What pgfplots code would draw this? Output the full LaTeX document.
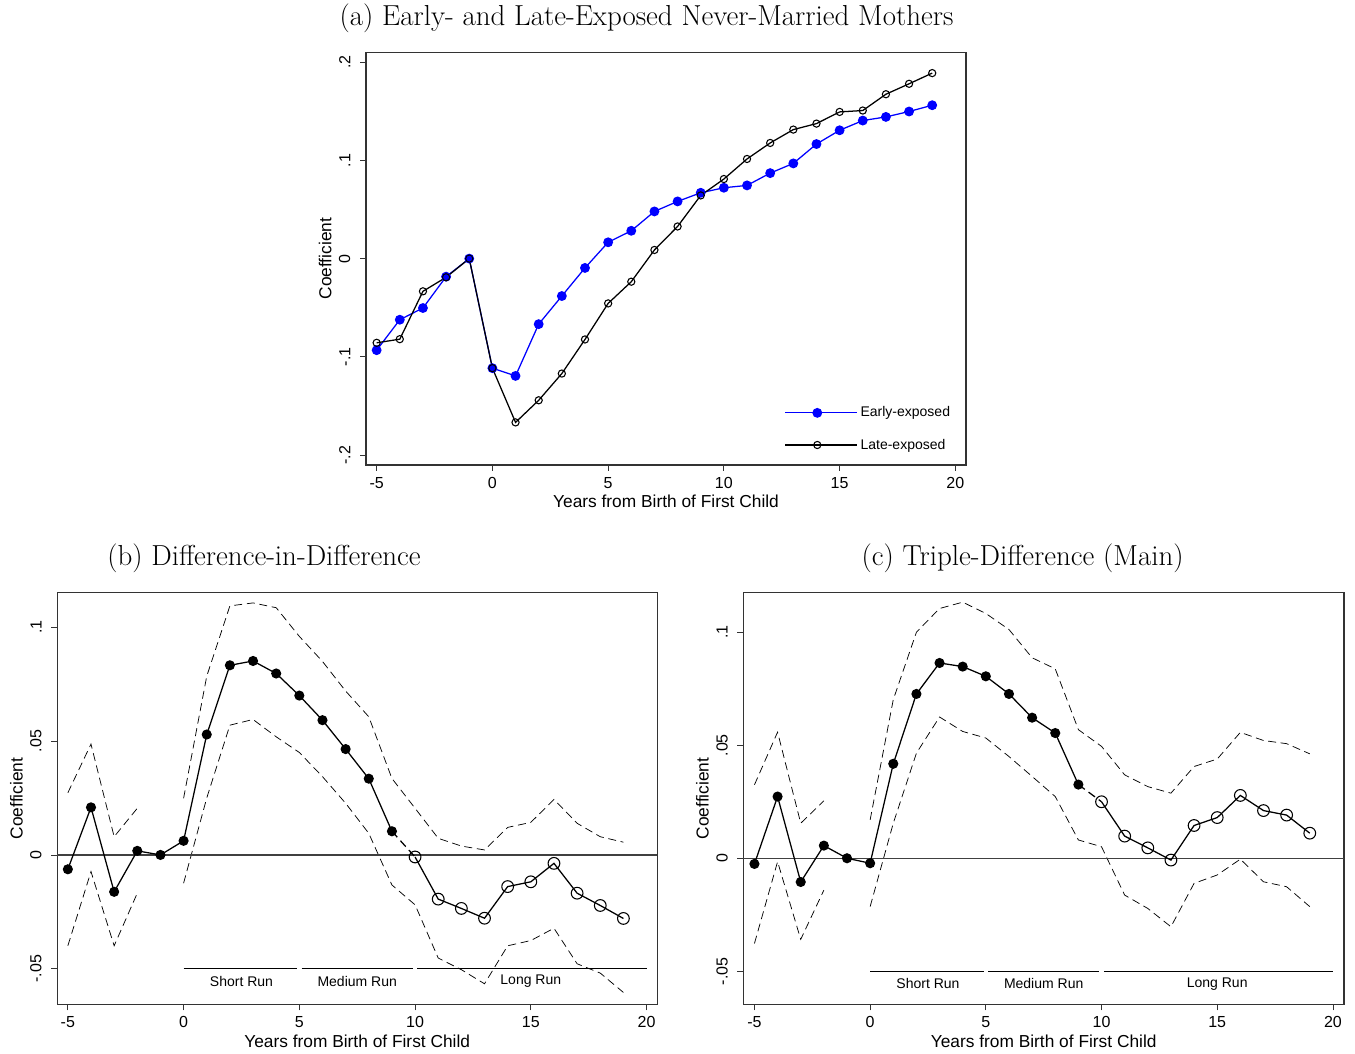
\documentclass[border=0pt]{standalone}
\usepackage{pgfplots}
\pgfplotsset{compat=1.18}
\usepackage{pgfplotstable}
\usepackage{fontspec}
\newfontfamily\arial{Liberation Sans}
\newcommand\tickfont{\arial\fontsize{12}{14}\selectfont}
\newcommand\labfont{\arial\fontsize{13}{15}\selectfont}
\newcommand\smfont{\arial\fontsize{10.5}{12}\selectfont}
\newcommand\titfont{\fontsize{21.7}{24}\selectfont}

\pgfplotstableread{
x early late
-5 -0.0932 -0.0857
-4 -0.0622 -0.0820
-3 -0.0503 -0.0333
-2 -0.0184 -0.0190
-1 0.0000 0.0000
0 -0.1115 -0.1115
1 -0.1194 -0.1667
2 -0.0667 -0.1442
3 -0.0381 -0.1170
4 -0.0095 -0.0823
5 0.0166 -0.0456
6 0.0283 -0.0235
7 0.0480 0.0088
8 0.0582 0.0327
9 0.0670 0.0643
10 0.0721 0.0810
11 0.0745 0.1014
12 0.0870 0.1177
13 0.0969 0.1313
14 0.1166 0.1374
15 0.1306 0.1493
16 0.1405 0.1507
17 0.1442 0.1673
18 0.1497 0.1779
19 0.1561 0.1888
}\tabA

\pgfplotstableread{
x b lo hi
-5 -0.0063 -0.0399 0.0273
-4 0.0209 -0.0073 0.0487
-3 -0.0162 -0.0399 0.0080
-2 0.0018 -0.0168 0.0205
-1 0.0000 nan nan
0 0.0062 -0.0124 0.0249
1 0.0529 0.0250 0.0785
2 0.0833 0.0570 0.1094
3 0.0852 0.0595 0.1107
4 0.0797 0.0519 0.1086
5 0.0700 0.0450 0.0960
6 0.0592 0.0344 0.0850
7 0.0465 0.0227 0.0720
8 0.0335 0.0095 0.0607
9 0.0104 -0.0132 0.0336
10 -0.0009 -0.0219 0.0205
11 -0.0194 -0.0453 0.0073
12 -0.0235 -0.0504 0.0039
13 -0.0278 -0.0566 0.0022
14 -0.0139 -0.0399 0.0121
15 -0.0118 -0.0376 0.0143
16 -0.0037 -0.0322 0.0244
17 -0.0168 -0.0478 0.0139
18 -0.0222 -0.0519 0.0080
19 -0.0279 -0.0604 0.0056
}\tabB

\pgfplotstableread{
x b lo hi
-5 -0.0025 -0.0377 0.0325
-4 0.0273 -0.0015 0.0558
-3 -0.0105 -0.0359 0.0155
-2 0.0056 -0.0141 0.0254
-1 0.0000 nan nan
0 -0.0022 -0.0214 0.0170
1 0.0418 0.0155 0.0702
2 0.0727 0.0465 0.1000
3 0.0864 0.0625 0.1105
4 0.0848 0.0561 0.1133
5 0.0805 0.0532 0.1083
6 0.0727 0.0450 0.1012
7 0.0622 0.0362 0.0887
8 0.0554 0.0273 0.0838
9 0.0326 0.0081 0.0569
10 0.0250 0.0051 0.0495
11 0.0098 -0.0163 0.0369
12 0.0046 -0.0222 0.0317
13 -0.0008 -0.0303 0.0288
14 0.0145 -0.0111 0.0406
15 0.0180 -0.0074 0.0439
16 0.0278 -0.0004 0.0557
17 0.0211 -0.0104 0.0521
18 0.0191 -0.0126 0.0507
19 0.0111 -0.0214 0.0462
}\tabC

\pgfplotsset{
  stata/.style={
    scale only axis,
    axis line style={black!80, line width=0.9pt},
    tick align=outside,
    tick pos=left,
    major tick length=4.5pt,
    tick style={black!80, line width=0.6pt},
    xtick={-5,0,5,10,15,20},
    xticklabels={-5,0,5,10,15,20},
    xmin=-5.46, xmax=20.46,
    ticklabel style={font=\tickfont},
    xticklabel style={yshift=-1.2pt},
    yticklabel style={rotate=90, anchor=south, yshift=3.7pt},
    xlabel={Years from Birth of First Child},
    ylabel={Coefficient},
    label style={font=\labfont},
    xlabel style={at={(axis description cs:0.5,-0.089)}, anchor=center},
    ylabel style={at={(axis description cs:-0.068,0.5)}, anchor=center},
    unbounded coords=jump,
    clip=false,
  },
  ci/.style={black, line width=0.55pt, dash pattern=on 6pt off 3.5pt, no marks},
  pre/.style={black, line width=0.95pt, mark=*, mark size=3.3pt, mark options={solid, fill=black}},
  post/.style={black, line width=0.95pt, mark=o, mark size=4.4pt, mark options={solid, line width=0.8pt}},
  runline/.style={black, line width=0.9pt, no marks},
}

\begin{document}
\begin{tikzpicture}
\useasboundingbox (0pt,0pt) rectangle (1016.25pt,-789.75pt);

\node[font=\titfont] at (484.9pt,-14pt) {(a) Early- and Late-Exposed Never-Married Mothers};
\node[font=\titfont] at (198pt,-419pt) {(b) Difference-in-Difference};
\node[font=\titfont] at (766.9pt,-419pt) {(c) Triple-Difference (Main)};

% Panel (a)
\begin{axis}[stata, at={(274.5pt,-39.2pt)}, anchor=north west,
  width=450pt, height=309.5pt,
  ymin=-0.21, ymax=0.21,
  ytick={-0.2,-0.1,0,0.1,0.2}, yticklabels={-.2,-.1,0,.1,.2},
  legend style={at={(axis description cs:0.985,0.02)}, anchor=south east,
    draw=none, fill=none, font=\smfont, row sep=11pt,
    cells={anchor=west}},
  legend image code/.code={\path (0pt,0pt) -- (54pt,0pt); \draw[#1, mark repeat=2, mark phase=2] plot coordinates {(0pt,0pt) (24pt,0pt) (48pt,0pt)};},
]
\addplot[blue, line width=0.95pt, mark=*, mark size=3.2pt, mark options={solid, fill=blue}] table[x=x, y=early] {\tabA};
\addlegendentry{Early-exposed}
\addplot[black, line width=0.95pt, mark=o, mark size=2.7pt, mark options={solid, line width=0.8pt}] table[x=x, y=late] {\tabA};
\addlegendentry{Late-exposed}
\end{axis}

% Panel (b)
\begin{axis}[stata, at={(42.9pt,-444.5pt)}, anchor=north west,
  width=450pt, height=308.7pt,
  ymin=-0.0656, ymax=0.1152,
  ytick={-0.05,0,0.05,0.1}, yticklabels={-.05,0,.05,.1},
]
\addplot[ci] table[x=x, y=hi] {\tabB};
\addplot[ci] table[x=x, y=lo] {\tabB};
\addplot[black!75, line width=0.9pt, no marks] coordinates {(-5.46,0) (20.46,0)};
\addplot[pre] table[x=x, y=b, restrict x to domain=-5:9] {\tabB};
\addplot[black, line width=0.95pt, dash pattern=on 6pt off 3.5pt, no marks] coordinates {(9,0.0104) (10,-0.0009)};
\addplot[post] table[x=x, y=b, restrict x to domain=10:19] {\tabB};
\addplot[runline] coordinates {(0,-0.05) (4.9,-0.05)};
\addplot[runline] coordinates {(5.1,-0.05) (9.9,-0.05)};
\addplot[runline] coordinates {(10.1,-0.05) (20,-0.05)};
\node[font=\smfont] at (axis cs:2.5,-0.0556) {Short Run};
\node[font=\smfont] at (axis cs:7.5,-0.0556) {Medium Run};
\node[font=\smfont] at (axis cs:15,-0.0556) {Long Run};
\end{axis}

% Panel (c)
\begin{axis}[stata, at={(557.5pt,-444.5pt)}, anchor=north west,
  width=450.5pt, height=308.7pt,
  xmin=-5.48, xmax=20.48,
  ymin=-0.0646, ymax=0.1175,
  ytick={-0.05,0,0.05,0.1}, yticklabels={-.05,0,.05,.1},
]
\addplot[ci] table[x=x, y=hi] {\tabC};
\addplot[ci] table[x=x, y=lo] {\tabC};
\addplot[black!75, line width=0.9pt, no marks] coordinates {(-5.48,0) (20.48,0)};
\addplot[pre] table[x=x, y=b, restrict x to domain=-5:9] {\tabC};
\addplot[black, line width=0.95pt, dash pattern=on 6pt off 3.5pt, no marks] coordinates {(9,0.0326) (10,0.0250)};
\addplot[post] table[x=x, y=b, restrict x to domain=10:19] {\tabC};
\addplot[runline] coordinates {(0,-0.05) (4.9,-0.05)};
\addplot[runline] coordinates {(5.1,-0.05) (9.9,-0.05)};
\addplot[runline] coordinates {(10.1,-0.05) (20,-0.05)};
\node[font=\smfont] at (axis cs:2.5,-0.0556) {Short Run};
\node[font=\smfont] at (axis cs:7.5,-0.0556) {Medium Run};
\node[font=\smfont] at (axis cs:15,-0.0556) {Long Run};
\end{axis}
\end{tikzpicture}
\end{document}
